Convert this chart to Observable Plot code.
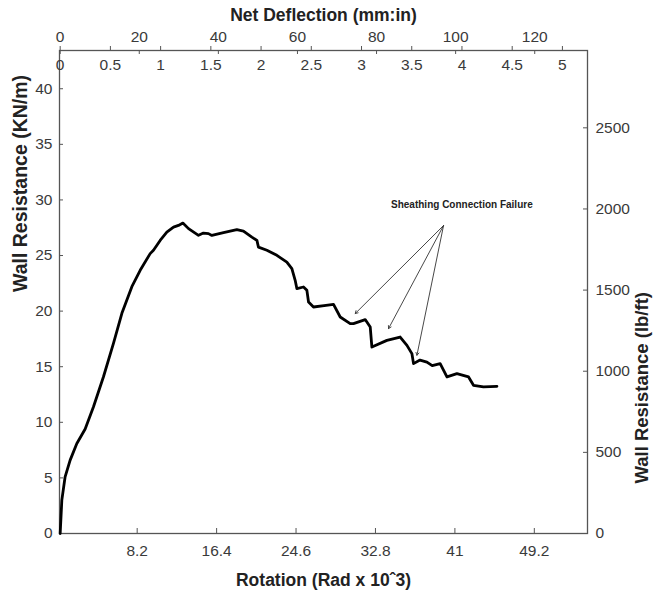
<!DOCTYPE html>
<html><head><meta charset="utf-8">
<script src="https://cdn.jsdelivr.net/npm/d3@7"></script>
<script src="https://cdn.jsdelivr.net/npm/@observablehq/plot@0.6"></script>
<style>
html,body{margin:0;padding:0;background:#fff;}
#chart svg{display:block;}
</style></head><body><div id="chart"></div>
<script>
// Rotation (Rad x 10^-3) and wall resistance (kN/m)
const rotation = [0.25, 0.42, 0.76, 1.28, 1.97, 2.83, 3.69, 4.72, 5.75, 6.62, 7.65, 8.51, 9.54, 9.88, 10.57, 11.26, 11.95, 12.46, 12.92, 13.50, 14.53, 15.04, 15.56, 15.91, 17.11, 18.49, 19.17, 20.04, 20.56, 20.72, 21.59, 22.62, 23.65, 24.17, 24.51, 24.69, 25.37, 25.72, 25.89, 26.40, 27.5, 28.47, 29.16, 30.19, 30.53, 31.74, 32.26, 32.43, 33.98, 35.35, 36.05, 36.56, 36.73, 37.4, 38.11, 38.66, 39.48, 40.18, 41.21, 42.41, 42.92, 43.95, 45.34];
const resistance = [0.0, 3.0, 5.1, 6.6, 8.1, 9.4, 11.4, 14.1, 17.1, 19.8, 22.2, 23.67, 25.17, 25.47, 26.36, 27.11, 27.56, 27.71, 27.92, 27.42, 26.82, 27.02, 26.97, 26.81, 27.06, 27.33, 27.20, 26.66, 26.36, 25.76, 25.47, 25.02, 24.41, 23.82, 22.77, 22.02, 22.17, 21.87, 20.82, 20.37, 20.5, 20.6, 19.47, 18.88, 18.88, 19.24, 18.57, 16.77, 17.37, 17.67, 16.92, 16.18, 15.28, 15.6, 15.42, 15.1, 15.28, 14.08, 14.38, 14.08, 13.33, 13.18, 13.24];

const rotationTicks = [8.2, 16.4, 24.6, 32.8, 41, 49.2];
const resistanceTicks = [0, 5, 10, 15, 20, 25, 30, 35, 40];
const lbftTicks = [0, 500, 1000, 1500, 2000, 2500];
const mmTicks = [0, 20, 40, 60, 80, 100, 120];
const inchTicks = [0, 0.5, 1, 1.5, 2, 2.5, 3, 3.5, 4, 4.5, 5];

const annotationText = ["Sheathing Connection Failure"];
const annotationRot = [41.72];
const annotationRes = [29.6];
const arrowFromRot = 39.83, arrowFromRes = 27.7;
const arrowToRot = [30.71, 34.15, 37.08];
const arrowToRes = [19.78, 18.43, 16.03];

// axis relations (secondary scales)
const KN_TO_LBFT = 68.52;
const DEFL_ZERO_ROT = 0.25;
const ROT_PER_INCH = 10.37;
const inToRot = d => DEFL_ZERO_ROT + d * ROT_PER_INCH;
const mmToRot = d => inToRot(d / 25.4);
const rotToMm = r => (r - DEFL_ZERO_ROT) / ROT_PER_INCH * 25.4;

const data = rotation.map((r, i) => ({r, k: resistance[i]}));
const arrows = arrowToRot.map((r, i) => ({x1: arrowFromRot, y1: arrowFromRes, x2: r, y2: arrowToRes[i]}));
const notes = annotationText.map((t, i) => ({t, r: annotationRot[i], k: annotationRes[i]}));

const W = 653, H = 590, ML = 59, MR = 66, MT = 50, MB = 57;
const FW = W - ML - MR, FH = H - MT - MB;
const tickColor = "#555";
const labelColor = "#3a3a3a";

const chart = Plot.plot({
  width: W, height: H,
  marginLeft: ML, marginRight: MR, marginTop: MT, marginBottom: MB,
  style: {fontFamily: "'Liberation Sans', Arial, sans-serif", fontSize: "15.5px", background: "#fff", color: labelColor},
  x: {domain: [0.18, 54.69]},
  y: {domain: [0, 43.44]},
  marks: [
    Plot.frame({stroke: tickColor, strokeWidth: 1.3}),
    // inward ticks
    Plot.tickY(resistanceTicks, {y: d => d, stroke: tickColor, insetRight: FW - 4}),
    Plot.tickY(lbftTicks.map(d => d / KN_TO_LBFT), {y: d => d, stroke: tickColor, insetLeft: FW - 4}),
    Plot.tickX(rotationTicks, {x: d => d, stroke: tickColor, insetTop: FH - 5}),
    Plot.tickX(mmTicks.map(mmToRot), {x: d => d, stroke: tickColor, insetBottom: FH - 4}),
    Plot.tickX(inchTicks.map(inToRot), {x: d => d, stroke: tickColor, insetTop: -4, insetBottom: FH}),
    // axes
    Plot.axisY(resistanceTicks, {anchor: "left", tickSize: 0, tickPadding: 7, label: null, fill: labelColor, tickFormat: d => String(d)}),
    Plot.axisY(lbftTicks.map(d => d / KN_TO_LBFT), {anchor: "right", tickSize: 0, tickPadding: 8, label: null, fill: labelColor, tickFormat: d => String(Math.round(d * KN_TO_LBFT))}),
    Plot.axisX(rotationTicks, {anchor: "bottom", tickSize: 0, tickPadding: 11, label: null, fill: labelColor, tickFormat: d => String(d)}),
    Plot.axisX(mmTicks.map(mmToRot), {anchor: "top", tickSize: 0, tickPadding: 9, label: null, fill: labelColor, tickFormat: d => String(Math.round(rotToMm(d)))}),
    Plot.text(inchTicks, {x: inToRot, frameAnchor: "top", dy: 15, text: d => String(d), fill: labelColor, lineAnchor: "middle"}),
    // titles
    Plot.text(["Net Deflection (mm:in)"], {frameAnchor: "top", dy: -35, fontWeight: "bold", fontSize: 17.5, fill: "#222", lineAnchor: "middle"}),
    Plot.text(["Rotation (Rad x 10ˆ3)"], {frameAnchor: "bottom", dy: 47, fontWeight: "bold", fontSize: 17.5, fill: "#222", lineAnchor: "middle"}),
    Plot.text(["Wall Resistance (KN/m)"], {frameAnchor: "left", dx: -39, rotate: -90, fontWeight: "bold", fontSize: 19.5, fill: "#222", lineAnchor: "middle"}),
    Plot.text(["Wall Resistance (lb/ft)"], {frameAnchor: "right", dx: 55, rotate: -90, fontWeight: "bold", fontSize: 18.5, fill: "#222", lineAnchor: "middle"}),
    // curve
    Plot.line(data, {x: "r", y: "k", stroke: "#000", strokeWidth: 2.8, strokeLinejoin: "round", strokeLinecap: "round"}),
    // annotation
    Plot.arrow(arrows, {x1: "x1", y1: "y1", x2: "x2", y2: "y2", stroke: "#333", strokeWidth: 0.9, headLength: 5}),
    Plot.text(notes, {x: "r", y: "k", text: "t", fontWeight: "bold", fontSize: 10, fill: "#222"})
  ]
});
document.getElementById("chart").appendChild(chart);
</script>
</body></html>
